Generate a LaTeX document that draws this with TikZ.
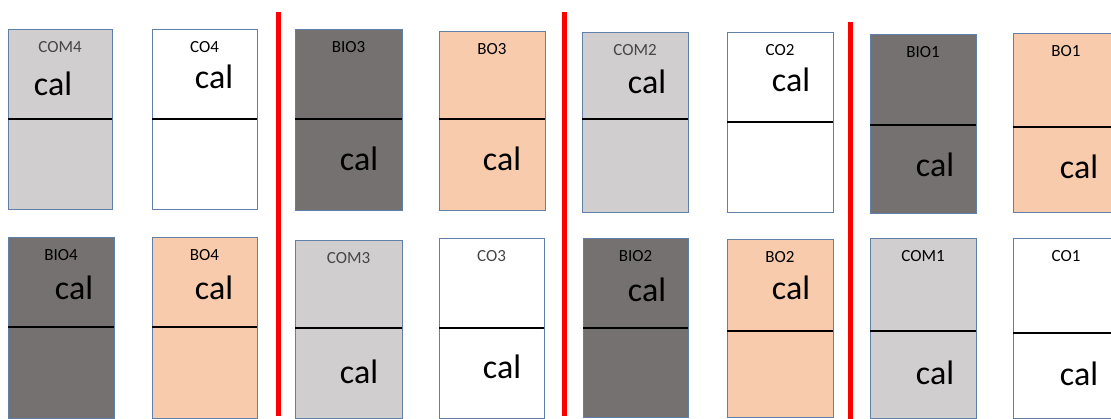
\documentclass[tikz,border=0pt]{standalone}
\usepackage{fontspec}
\setmainfont{Carlito}
\definecolor{lightgrey}{RGB}{208,206,206}
\definecolor{darkgrey}{RGB}{118,113,113}
\definecolor{peach}{RGB}{248,203,173}
\definecolor{edgeblue}{RGB}{96,128,170}
\definecolor{labelgrey}{RGB}{70,70,70}
\tikzset{
  cell/.style={draw=edgeblue, line width=1pt},
  split/.style={black, line width=1.1pt},
  tag/.style={inner sep=0pt, font=\fontsize{17}{17}\selectfont},
  calc/.style={inner sep=0pt, font=\fontsize{34}{34}\selectfont},
  wall/.style={red, line width=5pt}
}
\begin{document}
\begin{tikzpicture}[x=1pt, y=-1pt]
  \fill[white] (0,0) rectangle (1111,419);
  \useasboundingbox (0,0) rectangle (1111,419);
  % cells: name / box / split / fill / tag colour / position of cal
  \foreach \n/\xa/\ya/\xb/\yb/\d/\c/\t/\cx/\cy in {
      COM4/8/30/112/210/119/lightgrey/labelgrey/53/84,
      CO4/152/30/257/210/119/white/black/214/77,
      BIO3/295/30/402/211/119/darkgrey/black/359/159,
      BO3/439/32/545/211/119/peach/black/502/159,
      COM2/582/33/688/213/119/lightgrey/labelgrey/647/82,
      CO2/727/33/833/213/122/white/black/791/80,
      BIO1/870/35/976/214/125/darkgrey/black/935/165,
      BO1/1013/34/1119/213/127/peach/black/1079/167,
      BIO4/8/238/114/418/327/darkgrey/black/74/288,
      BO4/152/238/257/418/327/peach/black/214/288,
      COM3/295/241/402/418/328/lightgrey/labelgrey/359/372,
      CO3/439/239/544/418/328/white/labelgrey/502/367,
      BIO2/583/239/688/417/328/darkgrey/black/647/290,
      BO2/727/240/833/417/331/peach/black/791/288,
      COM1/870/239/976/418/331/lightgrey/black/935/373,
      CO1/1013/239/1119/418/333/white/black/1079/374}
  {
    \draw[cell, fill=\c] (\xa,\ya) rectangle (\xb,\yb);
    \draw[split] (\xa,\d) -- (\xb,\d);
    \node[tag, text=\t] (\n-tag) at ({(\xa+\xb)/2},{\ya+17}) {\n};
    \node[calc] (\n-cal) at (\cx,\cy) {cal};
  }
  % red separators
  \draw[wall] (278.5,12) -- (278.5,416);
  \draw[wall] (564,12) -- (564,416);
  \draw[wall] (850,22) -- (850,419);
\end{tikzpicture}
\end{document}
